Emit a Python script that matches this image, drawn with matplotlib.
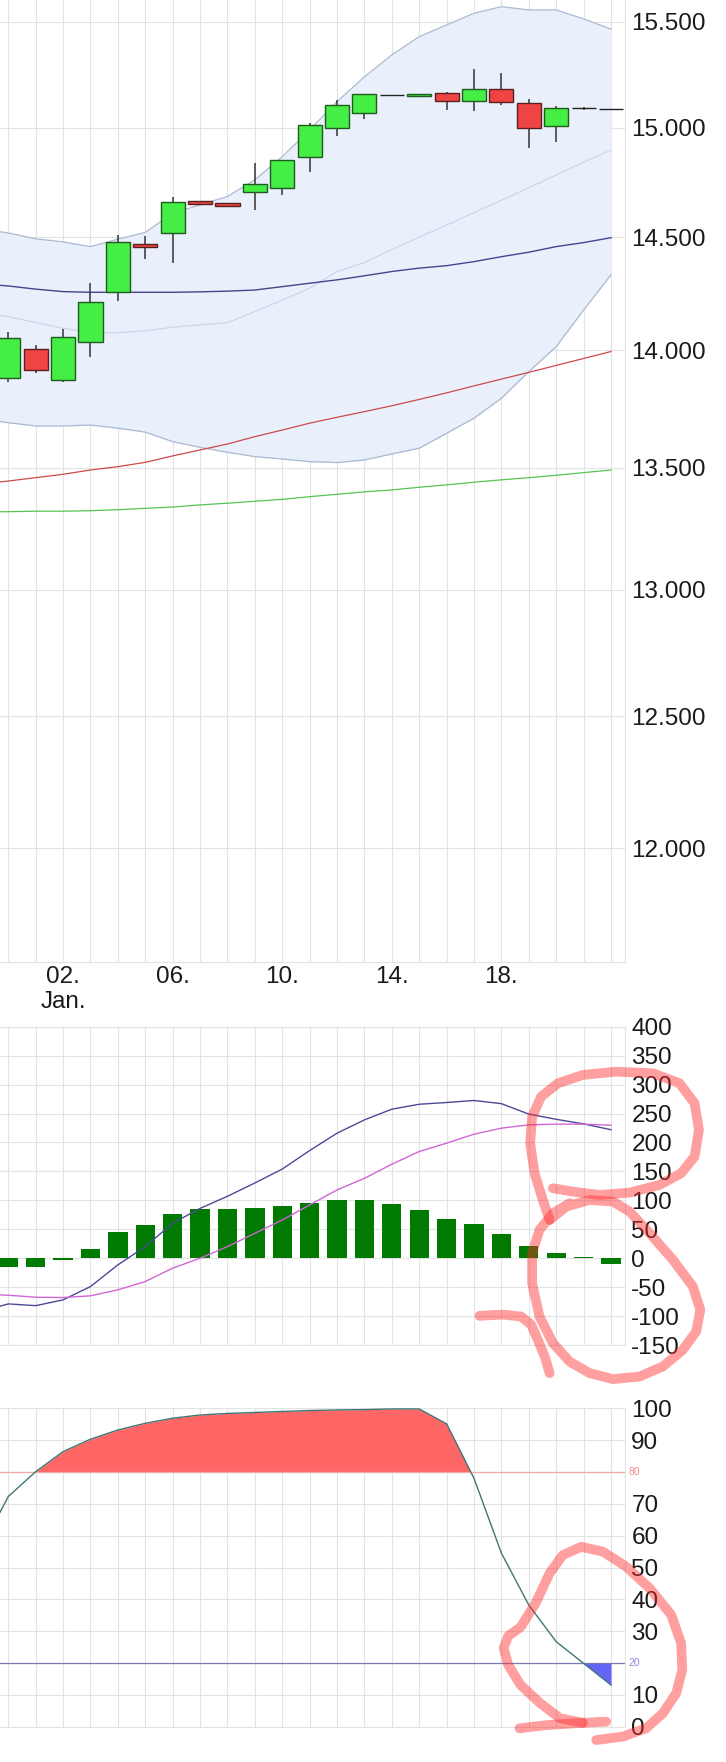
import matplotlib
matplotlib.use("Agg")
import matplotlib.pyplot as plt
from matplotlib.ticker import FixedLocator, FixedFormatter, NullLocator

plt.rcParams['font.family'] = ['Liberation Sans', 'DejaVu Sans']

# ======================
# DATA (day index 0 = 31 Dec, 1 = 01 Jan, ...)
# ======================
days = list(range(0, 23))
line_days = list(range(-1, 23))

label_days = [2, 6, 10, 14, 18]
label_texts = ["02.\nJan.", "06.", "10.", "14.", "18."]

opens = [13880, 14005, 13872, 14035, 14254, 14468, 14517, 14662, 14653, 14703, 14723, 14863,
         14997, 15069, 15150, 15148, 15160, 15124, 15180, 15113, 15009, 15090, 15087]
highs = [14081, 14023, 14092, 14294, 14509, 14505, 14683, 14664, 14654, 14835, 14849, 15020,
         15129, 15155, 15150, 15158, 15167, 15273, 15257, 15132, 15101, 15097, 15087]
lows = [13865, 13904, 13865, 13973, 14216, 14401, 14386, 14648, 14641, 14622, 14690, 14797,
        14962, 15039, 15150, 15148, 15082, 15079, 15105, 14904, 14935, 15082, 15087]
closes = [14053, 13915, 14057, 14210, 14479, 14454, 14660, 14650, 14642, 14739, 14849, 15012,
          15105, 15155, 15150, 15158, 15124, 15180, 15118, 14997, 15093, 15090, 15087]

bb_upper = [14537, 14518, 14492, 14478, 14457, 14490, 14521, 14607, 14645, 14683, 14759, 14865,
            14989, 15121, 15237, 15341, 15428, 15484, 15540, 15572, 15556, 15556, 15513, 15464]
bb_lower = [13706, 13690, 13676, 13676, 13680, 13667, 13650, 13610, 13586, 13565, 13547, 13537,
            13526, 13522, 13533, 13558, 13582, 13645, 13709, 13794, 13908, 14016, 14176, 14331]
bb_mid = [14163, 14147, 14121, 14096, 14077, 14077, 14085, 14101, 14111, 14121, 14169, 14220,
          14272, 14346, 14386, 14444, 14499, 14554, 14610, 14666, 14723, 14781, 14840, 14896]
sma_blue = [14291, 14282, 14268, 14257, 14254, 14254, 14254, 14254, 14256, 14259, 14264, 14279,
            14294, 14309, 14327, 14346, 14361, 14372, 14390, 14412, 14432, 14457, 14475, 14497]
sma_red = [13433, 13445, 13459, 13473, 13491, 13505, 13523, 13550, 13575, 13600, 13631, 13659,
           13688, 13713, 13737, 13762, 13789, 13817, 13847, 13876, 13905, 13935, 13965, 13995]
sma_green = [13317, 13318, 13320, 13320, 13322, 13326, 13332, 13337, 13346, 13353, 13361, 13369,
             13380, 13390, 13400, 13408, 13419, 13429, 13440, 13450, 13459, 13469, 13480, 13491]

price_ticks = [12000, 12500, 13000, 13500, 14000, 14500, 15000, 15500]

macd_line = [-92, -79, -82, -72, -49, -11.5, 20, 60.5, 86, 107, 130, 154,
             186, 216, 239, 257.5, 266, 269, 272.5, 267, 249, 240, 232, 222]
signal_line = [-62, -64, -67.4, -68, -65, -54.7, -40.3, -17.3, 0, 20, 43, 66,
               92, 118, 138, 162.4, 184.3, 198.8, 214.3, 224.7, 230.4, 231.6, 231.6, 229.8]
macd_hist = [-16, -14.4, -2.9, 16, 44.4, 57, 77.2, 84.7, 84.7, 86.4, 89.9, 96.2,
             101.4, 101, 93.3, 83, 68, 58.8, 42.1, 20.7, 9.2, 2.2, -9.8]
macd_ticks = [-150, -100, -50, 0, 50, 100, 150, 200, 250, 300, 350, 400]

stoch = [56, 72.3, 80.1, 86.4, 90.3, 93.2, 95.3, 96.9, 97.9, 98.4, 98.7, 99,
         99.3, 99.5, 99.6, 99.8, 99.8, 95.1, 78, 54.5, 38.2, 26.7, 19.9, 13.1]
stoch_ticks = [0, 10, 20, 30, 40, 50, 60, 70, 80, 90, 100]
stoch_upper, stoch_lower = 80, 20

# hand-drawn marker strokes (panel data units)
mark_m1_x = [19.76, 19.51, 19.21, 19.05, 19.12, 19.45, 20.06, 20.97, 22.19, 23.53, 24.50, 25.05,
             25.21, 25.05, 24.56, 23.77, 22.68, 21.58, 20.61, 19.88]
mark_m1_y = [66.1, 100.7, 146.8, 198.6, 244.5, 279.1, 302.2, 316.6, 322.3, 319.5, 302.2, 267.7,
             221.6, 175.5, 146.8, 126.6, 113.3, 109.3, 115.0, 120.9]
mark_m2_x = [19.76, 20.37, 21.22, 22.07, 22.68, 23.41, 24.26, 24.99, 25.26, 25.11, 24.62, 23.89,
             23.04, 22.07, 21.22, 20.49, 19.88, 19.39, 19.12, 19.12, 19.39, 19.88, 20.49]
mark_m2_y = [66.1, 89.1, 100.7, 97.8, 80.5, 43.2, -2.9, -49.0, -89.3, -126.8, -158.4, -187.2,
             -204.5, -209.0, -198.6, -178.6, -146.8, -100.8, -43.2, 8.6, 48.9, 77.7, 95.0]
mark_m3_x = [17.20, 18.05, 18.72, 19.09, 19.33, 19.58, 19.76]
mark_m3_y = [-99.6, -97.4, -100.8, -115.2, -141.1, -169.9, -198.6]
mark_s1_x = [20.97, 20.13, 19.40, 18.70, 18.25, 18.08, 18.25, 18.70, 19.25, 19.76, 20.24, 20.91,
             21.70, 22.55, 23.41, 24.20, 24.56, 24.60, 24.38, 23.89, 23.28, 22.43, 21.46]
mark_s1_y = [1.2, 2.7, 7.5, 13.1, 19.4, 24.7, 28.5, 31.3, 38.8, 48.2, 53.9, 56.5,
             55.0, 50.3, 43.5, 35.1, 26.2, 17.8, 10.5, 4.2, -0.5, -3.1, -4.2]
mark_s2_x = [18.66, 19.64, 20.73, 21.82]
mark_s2_y = [-0.5, 0.5, 1.1, 1.6]

# ======================
# STYLE
# ======================
GRID = "#e3e3e3"
LABEL_SIZE = 17.5
XLIM = (-0.303, 22.5)

fig = plt.figure(figsize=(7.26, 17.62), dpi=100)
fig.patch.set_facecolor("white")

ax_p = fig.add_axes([0, 0.45420, 0.86047, 0.54580])
ax_m = fig.add_axes([0, 0.23666, 0.86047, 0.18065])
ax_s = fig.add_axes([0, 0.02003, 0.86047, 0.18070])


def style_panel(ax):
    ax.set_xlim(*XLIM)
    ax.set_axisbelow(True)
    ax.xaxis.set_major_locator(FixedLocator(days))
    ax.grid(True, which="major", color=GRID, linewidth=0.8)
    ax.yaxis.tick_right()
    ax.tick_params(axis="both", length=0, labelsize=LABEL_SIZE, labelcolor="#1a1a1a")
    ax.tick_params(axis="y", pad=4.8)
    ax.spines["left"].set_visible(False)
    for side in ("top", "bottom", "right"):
        ax.spines[side].set_color(GRID)
        ax.spines[side].set_linewidth(0.8)


# ======================
# PRICE PANEL
# ======================
style_panel(ax_p)
ax_p.set_yscale("log")
ax_p.set_ylim(11586, 15604)
ax_p.yaxis.set_major_locator(FixedLocator(price_ticks))
ax_p.yaxis.set_major_formatter(FixedFormatter([f"{v:,}".replace(",", ".") for v in price_ticks]))
ax_p.yaxis.set_minor_locator(NullLocator())
ax_p.spines["top"].set_visible(False)

xt = [label_texts[label_days.index(d)] if d in label_days else "" for d in days]
ax_p.xaxis.set_major_formatter(FixedFormatter(xt))
ax_p.tick_params(axis="x", pad=3)

ax_p.fill_between(line_days, bb_lower, bb_upper, color="#e9f0fb", zorder=1, linewidth=0)
ax_p.plot(line_days, bb_upper, color="#a9b9d1", lw=0.9, zorder=2)
ax_p.plot(line_days, bb_lower, color="#a9b9d1", lw=0.9, zorder=2)
ax_p.plot(line_days, bb_mid, color="#c9d8ec", lw=0.9, zorder=2)
ax_p.plot(line_days, sma_blue, color="#45458f", lw=1.0, zorder=2)
ax_p.plot(line_days, sma_red, color="#cc4a4a", lw=0.9, zorder=2)
ax_p.plot(line_days, sma_green, color="#55c455", lw=0.9, zorder=2)

ax_p.vlines(days, lows, highs, color="#333333", lw=1.1, zorder=3)
for d, o, c in zip(days, opens, closes):
    if c > o:
        fc, ec = "#44ee44", "#1f5a1f"
    elif c < o:
        fc, ec = "#ee4444", "#5a1f1f"
    else:
        fc, ec = "#222222", "#222222"
    ax_p.bar(d, abs(c - o), bottom=min(o, c), width=0.88, color=fc,
             edgecolor=ec, linewidth=1.0, zorder=4)

# ======================
# MACD PANEL
# ======================
style_panel(ax_m)
ax_m.set_ylim(-150, 400)
ax_m.yaxis.set_major_locator(FixedLocator(macd_ticks))
ax_m.yaxis.set_major_formatter(FixedFormatter([str(v) for v in macd_ticks]))
ax_m.xaxis.set_major_formatter(FixedFormatter([""] * len(days)))

ax_m.bar(days, macd_hist, width=0.705, color="#007a00", zorder=2)
ax_m.plot(line_days, macd_line, color="#4a4a96", lw=1.0, zorder=3)
ax_m.plot(line_days, signal_line, color="#d066d6", lw=1.0, zorder=3)

# ======================
# STOCHASTIC PANEL
# ======================
style_panel(ax_s)
ax_s.set_ylim(0, 100)
ax_s.yaxis.set_major_locator(FixedLocator(stoch_ticks))
ax_s.yaxis.set_major_formatter(FixedFormatter(
    ["" if v in (stoch_upper, stoch_lower) else str(v) for v in stoch_ticks]))
ax_s.xaxis.set_major_formatter(FixedFormatter([""] * len(days)))

ax_s.fill_between(line_days, stoch, stoch_upper, where=[v >= stoch_upper for v in stoch],
                  interpolate=True, color="#ff6666", linewidth=0, zorder=2)
ax_s.fill_between(line_days, stoch, stoch_lower, where=[v <= stoch_lower for v in stoch],
                  interpolate=True, color="#6464f5", linewidth=0, zorder=2)
ax_s.axhline(stoch_upper, color="#f2a9a9", lw=0.9, zorder=2.5)
ax_s.axhline(stoch_lower, color="#7a7ab0", lw=0.9, zorder=2.5)
ax_s.plot(line_days, stoch, color="#3f7777", lw=1.0, zorder=3)

ax_s.annotate(str(stoch_upper), xy=(1, stoch_upper), xycoords=("axes fraction", "data"),
              xytext=(2.5, 0), textcoords="offset points", va="center", ha="left",
              fontsize=7.5, color="#f08a8a", annotation_clip=False)
ax_s.annotate(str(stoch_lower), xy=(1, stoch_lower), xycoords=("axes fraction", "data"),
              xytext=(2.5, 0), textcoords="offset points", va="center", ha="left",
              fontsize=7.5, color="#8a8ad8", annotation_clip=False)

# ======================
# HAND-DRAWN MARKS
# ======================
mark_style = dict(color="#ff2a2a", alpha=0.45, lw=7, solid_capstyle="round",
                  solid_joinstyle="round", clip_on=False, zorder=10)
ax_m.plot(mark_m1_x, mark_m1_y, **mark_style)
ax_m.plot(mark_m2_x, mark_m2_y, **mark_style)
ax_m.plot(mark_m3_x, mark_m3_y, **mark_style)
ax_s.plot(mark_s1_x, mark_s1_y, **mark_style)
ax_s.plot(mark_s2_x, mark_s2_y, **mark_style)

fig.savefig("out.png", dpi=100, facecolor="white")
